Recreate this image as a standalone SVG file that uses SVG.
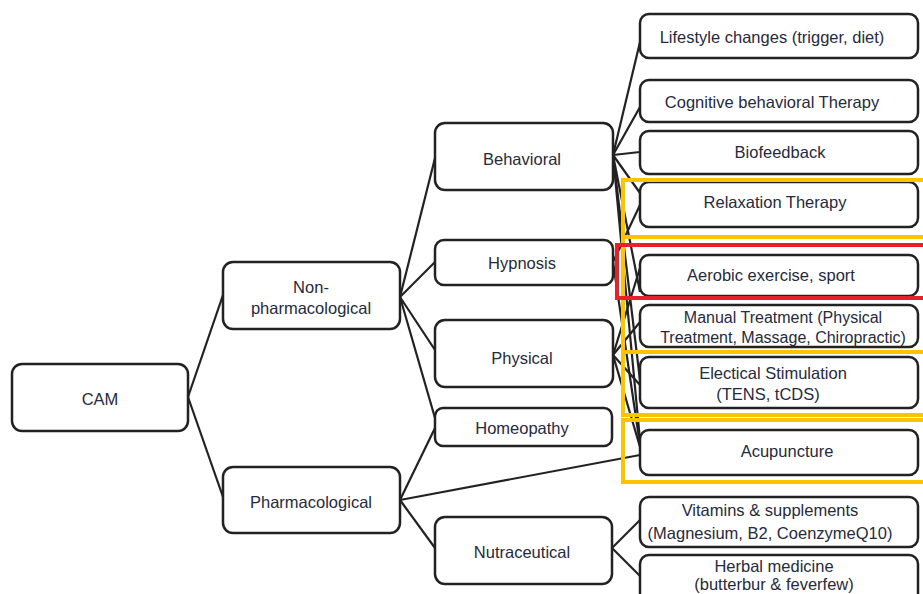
<svg xmlns="http://www.w3.org/2000/svg" width="923" height="594" viewBox="0 0 923 594">
<style>
.box{fill:#fff;stroke:#222;stroke-width:2.5}
.t{font-family:"Liberation Sans",Arial,sans-serif;font-size:16.5px;fill:#262a3e;text-anchor:middle;dominant-baseline:central}
.s{font-size:16px}
.c{stroke:#222;stroke-width:2.2;fill:none}
.y{fill:none;stroke:#fcc400;stroke-width:4}
.r{fill:none;stroke:#e8202a;stroke-width:4}
</style>
<rect width="923" height="594" fill="#fff"/>
<g id="connectors">
<line class="c" x1="188" y1="397" x2="223" y2="295"/>
<line class="c" x1="188" y1="397" x2="223" y2="497"/>
<line class="c" x1="400" y1="297" x2="435" y2="158"/>
<line class="c" x1="400" y1="297" x2="435" y2="262"/>
<line class="c" x1="400" y1="297" x2="435" y2="350"/>
<line class="c" x1="400" y1="297" x2="435" y2="418"/>
<line class="c" x1="400" y1="500" x2="435" y2="428"/>
<line class="c" x1="400" y1="500" x2="640" y2="455"/>
<line class="c" x1="400" y1="500" x2="435" y2="548"/>
<line class="c" x1="612" y1="548" x2="640" y2="520"/>
<line class="c" x1="612" y1="548" x2="640" y2="576"/>
<line class="c" x1="613" y1="155" x2="640" y2="42"/>
<line class="c" x1="613" y1="155" x2="640" y2="107"/>
<line class="c" x1="613" y1="155" x2="640" y2="152"/>
<line class="c" x1="613" y1="155" x2="640" y2="193"/>
<line class="c" x1="613" y1="155" x2="640" y2="292"/>
<line class="c" x1="613" y1="155" x2="640" y2="380"/>
<line class="c" x1="613" y1="155" x2="640" y2="440"/>
<line class="c" x1="613" y1="262" x2="640" y2="205"/>
<line class="c" x1="613" y1="262" x2="640" y2="445"/>
<line class="c" x1="613" y1="355" x2="640" y2="268"/>
<line class="c" x1="613" y1="355" x2="640" y2="322"/>
<line class="c" x1="613" y1="355" x2="640" y2="385"/>
<line class="c" x1="613" y1="355" x2="640" y2="447"/>
</g>
<g id="cam"><rect class="box" x="12" y="364" width="176" height="67" rx="10"/><text class="t" x="100" y="399">CAM</text></g>
<g id="nonpharm"><rect class="box" x="223" y="262" width="177" height="67" rx="10"/><text class="t" x="311" y="287">Non-</text><text class="t" x="311" y="308">pharmacological</text></g>
<g id="pharm"><rect class="box" x="223" y="467" width="177" height="66" rx="10"/><text class="t" x="311" y="502">Pharmacological</text></g>
<g id="behavioral"><rect class="box" x="435" y="123" width="178" height="67" rx="10"/><text class="t" x="522" y="159">Behavioral</text></g>
<g id="hypnosis"><rect class="box" x="435" y="240" width="178" height="45" rx="9"/><text class="t" x="522" y="263">Hypnosis</text></g>
<g id="physical"><rect class="box" x="435" y="320" width="178" height="67" rx="10"/><text class="t" x="522" y="358">Physical</text></g>
<g id="homeopathy"><rect class="box" x="435" y="408" width="177" height="38" rx="8"/><text class="t" x="522" y="428">Homeopathy</text></g>
<g id="nutraceutical"><rect class="box" x="435" y="517" width="177" height="67" rx="10"/><text class="t" x="522" y="552">Nutraceutical</text></g>
<g id="lifestyle"><rect class="box" x="640" y="14" width="278" height="44" rx="9"/><text class="t" x="772" y="37">Lifestyle changes (trigger, diet)</text></g>
<g id="cbt"><rect class="box" x="640" y="80" width="278" height="42" rx="9"/><text class="t" x="772" y="102">Cognitive behavioral Therapy</text></g>
<g id="biofeedback"><rect class="box" x="640" y="131" width="278" height="43" rx="9"/><text class="t" x="780" y="152">Biofeedback</text></g>
<g id="relaxation"><rect class="box" x="640" y="182" width="278" height="45" rx="9"/><text class="t" x="775" y="202">Relaxation Therapy</text></g>
<g id="aerobic"><rect class="box" x="640" y="255" width="278" height="41" rx="9"/><text class="t" x="771" y="275">Aerobic exercise, sport</text></g>
<g id="manual"><rect class="box" x="640" y="305" width="278" height="42" rx="9"/><text class="t s" x="783" y="317">Manual Treatment (Physical</text><text class="t s" x="783" y="337">Treatment, Massage, Chiropractic)</text></g>
<g id="electrical"><rect class="box" x="640" y="357" width="278" height="51" rx="9"/><text class="t" x="773" y="373">Electical Stimulation</text><text class="t" x="768" y="394">(TENS, tCDS)</text></g>
<g id="acupuncture"><rect class="box" x="640" y="430" width="278" height="45" rx="9"/><text class="t" x="787" y="451">Acupuncture</text></g>
<g id="vitamins"><rect class="box" x="640" y="497" width="278" height="50" rx="9"/><text class="t" x="770" y="510">Vitamins &amp; supplements</text><text class="t" x="770" y="533">(Magnesium, B2, CoenzymeQ10)</text></g>
<g id="herbal"><rect class="box" x="640" y="555" width="278" height="55" rx="9"/><text class="t" x="774" y="566">Herbal medicine</text><text class="t" x="774" y="584">(butterbur &amp; feverfew)</text></g>
<g id="highlights">
<rect class="y" x="623" y="180" width="310" height="57"/>
<rect class="y" x="623" y="237" width="310" height="115"/>
<rect class="y" x="623" y="352" width="310" height="63"/>
<rect class="y" x="623" y="420" width="310" height="62"/>
<rect class="r" x="617" y="245" width="316" height="53"/>
</g>
</svg>
